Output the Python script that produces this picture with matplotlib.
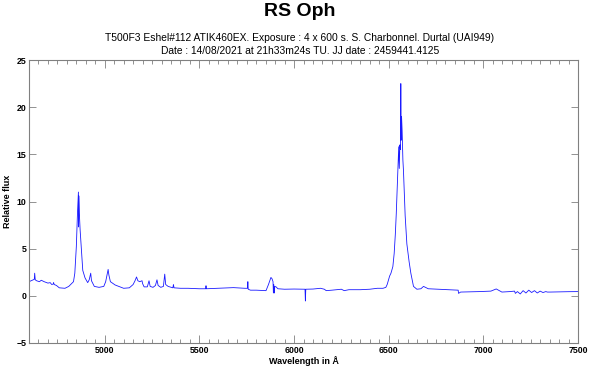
import matplotlib
matplotlib.use("Agg")
import matplotlib.pyplot as plt
from matplotlib.ticker import MultipleLocator

plt.rcParams["font.family"] = ["Liberation Sans", "DejaVu Sans"]

# spectrum nodes (wavelength in A, relative flux)
wavelength = [
    4600, 4611, 4621, 4628, 4630, 4633, 4640, 4655, 4665, 4680, 4700, 4712,
    4720, 4728, 4730, 4733, 4745, 4760, 4790, 4810, 4825, 4835, 4842, 4850,
    4856, 4859, 4861, 4862, 4863, 4866, 4870, 4876, 4884, 4896, 4910, 4918,
    4926, 4930, 4945, 4970, 4995, 5005, 5012, 5018, 5022, 5030, 5055, 5100,
    5130, 5150, 5160, 5168, 5175, 5185, 5197, 5200, 5208, 5225, 5234, 5240,
    5255, 5268, 5276, 5282, 5296, 5310, 5317, 5322, 5335, 5360, 5363, 5366,
    5400, 5440, 5500, 5533, 5535, 5537, 5600, 5680, 5740, 5754, 5756, 5758,
    5770, 5800, 5852, 5865, 5878, 5884, 5889, 5891, 5893, 5896, 5898, 5905,
    5915, 5950, 6000, 6058, 6060, 6062, 6100, 6140, 6160, 6170, 6200, 6250,
    6265, 6290, 6350, 6400, 6440, 6470, 6485, 6492, 6499, 6505, 6512, 6522,
    6529, 6535, 6540, 6545, 6550, 6553, 6556, 6559, 6562, 6564, 6566, 6568,
    6571, 6575, 6578, 6587, 6596, 6608, 6617, 6631, 6649, 6670, 6684, 6709,
    6760, 6820, 6860, 6867, 6869, 6880, 6920, 6980, 7040, 7068, 7098, 7140,
    7165, 7169, 7180, 7195, 7210, 7225, 7240, 7255, 7270, 7285, 7300, 7315,
    7330, 7338, 7353, 7400, 7450, 7500,
]
flux = [
    1.5, 1.6, 1.7, 1.75, 2.4, 1.7, 1.6, 1.5, 1.65, 1.5, 1.35, 1.4,
    1.2, 1.25, 1.4, 1.2, 1.1, 0.85, 0.8, 1.0, 1.3, 1.5, 2.4, 5.2,
    8.7, 10.0, 11.0, 7.3, 10.6, 8.7, 7.0, 5.2, 2.7, 1.9, 1.4, 1.7,
    2.4, 1.6, 1.0, 0.9, 1.0, 1.5, 2.2, 2.8, 2.2, 1.5, 1.15, 0.8,
    0.85, 1.2, 1.6, 2.0, 1.6, 1.5, 1.6, 1.3, 0.95, 0.95, 1.6, 1.0,
    0.9, 1.1, 1.7, 1.1, 0.9, 1.0, 2.3, 1.2, 1.0, 0.85, 1.2, 0.85,
    0.8, 0.8, 0.75, 0.75, 1.07, 0.75, 0.8, 0.87, 0.8, 0.8, 1.5, 0.7,
    0.6, 0.6, 0.55, 1.2, 1.95, 1.8, 1.5, 0.3, 1.2, 0.3, 1.0, 0.95,
    0.75, 0.7, 0.72, 0.7, -0.55, 0.7, 0.72, 0.8, 0.7, 0.55, 0.6, 0.7,
    0.55, 0.65, 0.65, 0.7, 0.8, 0.8, 0.9, 1.2, 1.7, 2.1, 2.4, 3.1,
    4.5, 6.5, 8.7, 11.5, 14.4, 15.8, 13.5, 16.0, 15.5, 22.5, 16.5, 19.0,
    17.5, 14.4, 13.3, 8.5, 5.5, 3.6, 2.4, 1.0, 0.7, 0.75, 1.0, 0.75,
    0.7, 0.65, 0.6, 0.6, 0.26, 0.4, 0.42, 0.45, 0.5, 0.73, 0.4, 0.45,
    0.5, 0.26, 0.45, 0.2, 0.55, 0.3, 0.6, 0.35, 0.55, 0.3, 0.5, 0.35,
    0.45, 0.4, 0.4, 0.42, 0.44, 0.45,
]

title = "RS Oph"
subtitle1 = "T500F3 Eshel#112 ATIK460EX. Exposure : 4 x 600 s. S. Charbonnel. Durtal (UAI949)"
subtitle2 = "Date : 14/08/2021 at 21h33m24s TU. JJ date : 2459441.4125"

fig = plt.figure(figsize=(6, 3.71), dpi=100)
ax = fig.add_axes([29 / 600, 1 - 343 / 371, 549 / 600, 283 / 371])

ax.plot(wavelength, flux, color="#1a1aff", linewidth=0.6)

ax.set_xlim(4600, 7500)
ax.set_ylim(-5, 25)
ax.xaxis.set_major_locator(MultipleLocator(500))
ax.xaxis.set_minor_locator(MultipleLocator(50))
ax.yaxis.set_major_locator(MultipleLocator(5))

grey = "#808080"
for s in ax.spines.values():
    s.set_color(grey)
    s.set_linewidth(0.8)
ax.tick_params(which="both", direction="in", top=True, right=True, colors=grey,
               labelcolor="black", width=0.6, labelsize=6.3, pad=2)
ax.tick_params(axis="x", which="major", length=6)
ax.tick_params(axis="x", which="minor", length=3)
ax.tick_params(axis="y", which="major", length=5)
for lab in ax.get_xticklabels() + ax.get_yticklabels():
    lab.set_fontweight("bold")

ax.set_xlabel("Wavelength in Å", fontsize=6.5, fontweight="bold", labelpad=1)
ax.set_ylabel("Relative flux", fontsize=6.5, fontweight="bold", labelpad=3)

fig.text(0.5, 1 - 12 / 371, title, ha="center", va="center", fontsize=14, fontweight="bold")
fig.text(0.5, 1 - 38 / 371, subtitle1, ha="center", va="center", fontsize=7.4)
fig.text(0.5, 1 - 51 / 371, subtitle2, ha="center", va="center", fontsize=7.4)

fig.savefig("out.png", dpi=100)
